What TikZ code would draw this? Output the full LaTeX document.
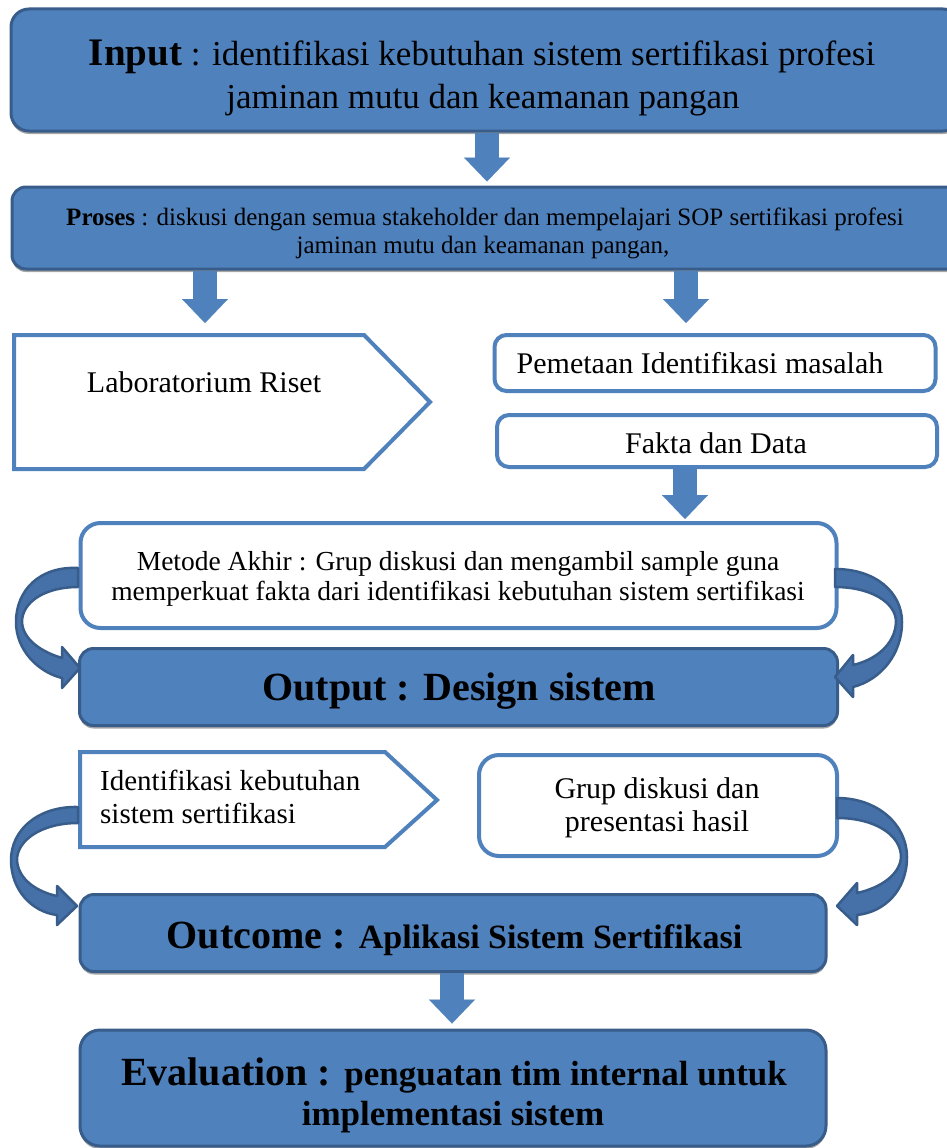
\documentclass[tikz,border=0pt]{standalone}
\usepackage{fontspec}
\setmainfont{Liberation Serif}
\usetikzlibrary{arrows.meta,shadows}
\definecolor{accent}{HTML}{4F81BD}
\definecolor{accentdk}{HTML}{385D8A}
\definecolor{curvefill}{HTML}{4571A8}
\tikzset{
  bluebox/.style={draw=accentdk, line width=3pt, fill=accent, rounded corners=#1, inner sep=0pt,
    drop shadow={shadow xshift=0pt, shadow yshift=-3pt, opacity=0.35, fill=black}},
  whitebox/.style={draw=accent, line width=4pt, fill=white, rounded corners=#1, inner sep=0pt},
  barrow/.style={draw=accent, line width=24pt, -{Triangle[width=46pt,length=24pt,line width=0.01pt]}},
  curvarrow/.style={fill=curvefill, draw=accentdk, line width=2.5pt, line join=round},
  txt/.style={anchor=base, inner sep=0pt, font=\fontsize{#1}{#1}\selectfont},
}
\begin{document}
\begin{tikzpicture}[x=1pt,y=-1pt]
\useasboundingbox (0,0) rectangle (947,1148);
\clip (0,0) rectangle (947,1148);
\fill[white] (0,0) rectangle (947,1148);

% Input
\node[bluebox=18pt, minimum width=950pt, minimum height=122pt] (input) at (486,70) {};
\node[txt=35] (inputl1) at (482,66) {\fontsize{39}{39}\selectfont\bfseries Input\fontsize{35}{35}\selectfont\mdseries{} : identifikasi kebutuhan sistem sertifikasi profesi};
\node[txt=35] (inputl2) at (483,108) {jaminan mutu dan keamanan pangan};

% Proses
\node[bluebox=14pt, minimum width=950pt, minimum height=82pt] (proses) at (487,228) {};
\node[txt=25] (prosesl1) at (485,225.5) {\bfseries Proses\mdseries{} : diskusi dengan semua stakeholder dan mempelajari SOP sertifikasi profesi};
\node[txt=25] (prosesl2) at (483,253.5) {jaminan mutu dan keamanan pangan,};

% Laboratorium Riset
\draw[whitebox=0pt] (14,335) -- (364,335) -- (430,402) -- (364,469) -- (14,469) -- cycle;
\coordinate (labtop) at (205,335);
\node[txt=30] (lab) at (204,392) {Laboratorium Riset};

% Pemetaan / Fakta
\node[whitebox=12pt, minimum width=441pt, minimum height=56pt] (pemetaan) at (715,363) {};
\node[txt=30] (pemetaantext) at (700,373) {Pemetaan Identifikasi masalah};
\node[whitebox=12pt, minimum width=440pt, minimum height=52pt] (fakta) at (717,441) {};
\node[txt=30] (faktatext) at (716,453) {Fakta dan Data};

% Metode Akhir
\node[whitebox=20pt, minimum width=756pt, minimum height=105pt] (metode) at (458.5,575.5) {};
\node[txt=27.5] (metodel1) at (458,570) {Metode Akhir : Grup diskusi dan mengambil sample guna};
\node[txt=27.5] (metodel2) at (458,600.5) {memperkuat fakta dari identifikasi kebutuhan sistem sertifikasi};

% Output
\node[bluebox=14pt, minimum width=758pt, minimum height=77pt] (output) at (458.5,687) {};
\node[txt=40] (outputtext) at (459,700) {\bfseries Output : Design sistem};

% Identifikasi pentagon
\draw[whitebox=0pt] (80,752) -- (385,752) -- (437,800) -- (385,847) -- (80,847) -- cycle;
\node[txt=29, anchor=base west] (identl1) at (100,790) {Identifikasi kebutuhan};
\node[txt=29, anchor=base west] (identl2) at (100,823) {sistem sertifikasi};

% Grup diskusi
\node[whitebox=20pt, minimum width=358pt, minimum height=101pt] (grup) at (658,805.5) {};
\node[txt=30] (grupl1) at (657,798) {Grup diskusi dan};
\node[txt=30] (grupl2) at (657,831) {presentasi hasil};

% Outcome
\node[bluebox=14pt, minimum width=746pt, minimum height=77pt] (outcome) at (453,933) {};
\node[txt=40] (outcometext) at (454.5,948) {\bfseries Outcome : \fontsize{34}{34}\selectfont Aplikasi Sistem Sertifikasi};

% Evaluation
\node[bluebox=20pt, minimum width=746pt, minimum height=116pt] (evaluation) at (453,1088) {};
\node[txt=40] (evall1) at (454,1085) {\bfseries Evaluation : \fontsize{35}{35}\selectfont penguatan tim internal untuk};
\node[txt=35] (evall2) at (453,1125) {\bfseries implementasi sistem};

% block arrows
\coordinate (ax1) at (487,0);
\coordinate (ax2) at (205,0);
\coordinate (ax3) at (686,0);
\coordinate (ax4) at (685,0);
\coordinate (ax5) at (452,0);
\draw[barrow, shorten >=4pt] (input.south -| ax1) -- (proses.north -| ax1);
\draw[barrow, shorten >=12pt] (proses.south -| ax2) -- (labtop);
\draw[barrow, shorten >=10pt] (proses.south -| ax3) -- (pemetaan.north -| ax3);
\draw[barrow, shorten >=2pt] (fakta.south -| ax4) -- (metode.north -| ax4);
\draw[barrow, shorten >=5pt] (outcome.south -| ax5) -- (evaluation.north -| ax5);

% curved arrows
\draw[curvarrow] (78,568) .. controls (40,566) and (16,590) .. (16,622)
  .. controls (16,650) and (38,672) .. (62,678) -- (62,688) -- (80,668) -- (62,647) -- (62,658)
  .. controls (42,652) and (23,640) .. (22,622) .. controls (22,602) and (45,587) .. (78,587) -- cycle;
\draw[curvarrow] (835,569) .. controls (875,569) and (902,592) .. (902,622)
  .. controls (902,655) and (880,680) .. (853,687) -- (853,697) -- (835,677) -- (853,655) -- (853,665)
  .. controls (875,660) and (895,645) .. (896,622) .. controls (896,602) and (870,587) .. (835,587) -- cycle;
\draw[curvarrow] (78,807) .. controls (38,806) and (11,830) .. (11,860)
  .. controls (11,890) and (32,912) .. (57,915) -- (57,925) -- (77,906) -- (57,886) -- (57,896)
  .. controls (38,892) and (18,880) .. (17,860) .. controls (17,840) and (42,823) .. (78,823) -- cycle;
\draw[curvarrow] (837,798) .. controls (878,798) and (907,825) .. (907,857)
  .. controls (907,890) and (885,912) .. (857,915) -- (857,925) -- (837,906) -- (857,883) -- (857,893)
  .. controls (880,888) and (900,875) .. (901,857) .. controls (901,835) and (875,818) .. (837,818) -- cycle;
\end{tikzpicture}
\end{document}
